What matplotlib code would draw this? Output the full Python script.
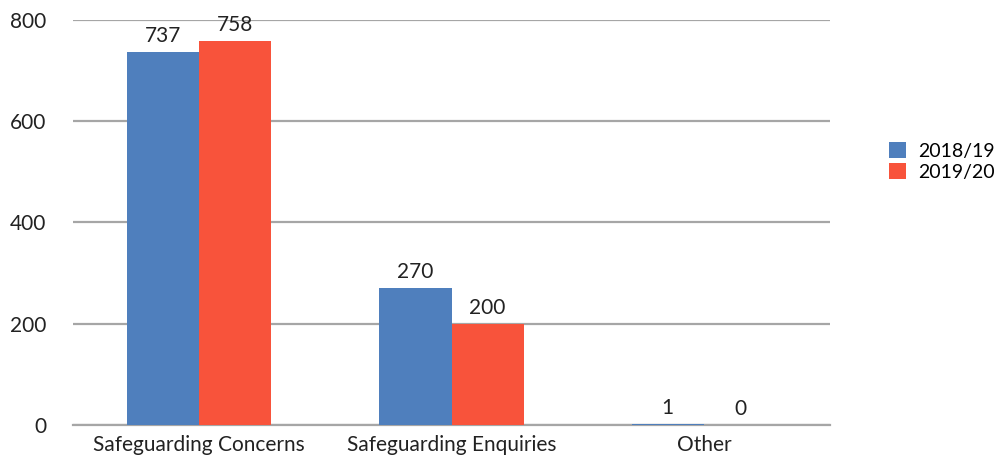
import numpy as np
import matplotlib.pyplot as plt

categories = ["Safeguarding Concerns", "Safeguarding Enquiries", "Other"]
series_names = ["2018/19", "2019/20"]
values_1819 = [737, 270, 1]
values_1920 = [758, 200, 0]
colors = ["#4f7fbd", "#f8533b"]

plt.rcParams['font.family'] = ['Lato', 'DejaVu Sans']
fs = 15

fig = plt.figure(figsize=(10.06, 4.55), dpi=100)
ax = fig.add_axes([0.0726, 0.066, 0.7525, 0.89])

x = np.arange(len(categories))
w = 0.286
for i, (vals, name) in enumerate(zip([values_1819, values_1920], series_names)):
    pos = x + (i - 0.5) * w
    bars = ax.bar(pos, vals, width=w, color=colors[i], label=name, zorder=3)
    for b, v in zip(bars, vals):
        ax.text(b.get_x() + w / 2, v + 12, str(v), ha='center', va='bottom',
                fontsize=fs, color='#222222')

ax.set_xlim(-0.5, 2.5)
ax.set_ylim(0, 800)
ax.set_yticks([0, 200, 400, 600, 800])
ax.set_xticks(x)
ax.set_xticklabels(categories, fontsize=fs, color='#222222')
ax.tick_params(axis='y', length=0, pad=19, labelsize=fs, labelcolor='#222222')
ax.tick_params(axis='x', length=0, pad=7)
ax.yaxis.grid(True, color='#a6a6a6', linewidth=1.6, zorder=0)
for s in ['top', 'right', 'left']:
    ax.spines[s].set_visible(False)
ax.spines['bottom'].set_color('#a6a6a6')
ax.spines['bottom'].set_linewidth(1.6)
ax.set_axisbelow(True)

fig.legend(loc='center left', bbox_to_anchor=(0.874, 0.645), frameon=False,
           fontsize=14, handlelength=0.9, handleheight=0.9, handletextpad=0.6,
           labelspacing=0.15, borderpad=0)

fig.savefig("out.png", dpi=100)
